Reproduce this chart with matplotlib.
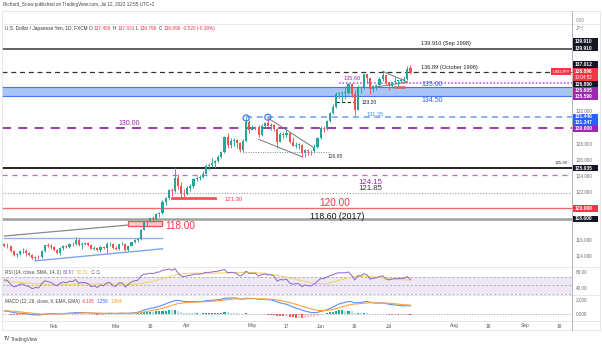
import matplotlib
matplotlib.use('Agg')
import matplotlib.pyplot as plt
import numpy as np
import pandas as pd
from matplotlib.lines import Line2D
from matplotlib.patches import Rectangle, Ellipse

plt.rcParams['font.family'] = ['Liberation Sans', 'DejaVu Sans']

# ---------------- DATA ----------------
start_date = '2022-01-10'
end_date = '2022-07-12'
axis_end_date = '2022-09-30'

opens = [115.55,115.20,115.28,114.61,114.18,114.22,114.60,114.62,114.33,114.12,113.70,113.88,113.84,114.65,115.35,115.25,
         115.10,114.70,114.40,114.95,115.22,115.10,115.55,115.50,116.00,115.40,115.55,115.58,115.40,114.92,115.00,114.75,115.10,115.00,115.50,115.55,
         115.00,114.90,115.48,115.50,114.80,115.30,115.70,116.00,116.10,117.30,118.20,118.30,118.70,118.60,119.20,119.40,120.80,121.20,122.30,122.10,123.80,122.80,121.80,
         121.70,122.50,122.80,123.60,123.80,123.90,124.30,125.30,125.40,125.60,125.90,126.40,127.00,128.90,127.90,128.40,128.50,128.10,127.20,128.40,130.80,
         129.80,130.10,130.10,129.10,130.20,130.60,130.30,130.40,129.90,128.30,129.20,129.10,129.40,128.20,127.80,127.90,127.90,126.90,127.30,127.10,127.10,127.60,
         128.70,130.00,129.90,130.90,131.90,132.60,134.20,134.40,134.40,134.40,135.50,134.20,132.20,135.00,135.10,136.70,136.20,134.90,135.20,135.40,136.10,136.60,
         135.70,135.20,135.70,135.90,135.90,136.00,136.10,137.456]
highs = [115.68,115.60,115.40,114.75,114.38,114.80,115.05,114.82,114.50,114.20,114.00,114.10,114.70,115.40,115.68,115.45,
         115.20,114.85,115.10,115.40,115.38,115.60,115.70,116.35,116.20,115.80,115.80,115.70,115.50,115.20,115.10,115.20,115.25,115.70,115.75,115.60,
         115.20,115.55,115.80,115.60,115.40,115.80,116.10,116.30,117.40,118.30,118.45,118.90,119.00,119.40,119.50,120.95,121.40,122.40,122.45,125.10,124.30,123.20,122.40,
         122.70,123.00,123.70,124.00,124.10,124.60,125.50,125.60,126.30,126.00,126.60,127.10,129.00,129.40,128.70,128.80,128.60,128.20,128.60,131.25,131.00,
         130.40,130.30,130.35,130.50,130.80,131.35,130.60,130.50,130.00,129.50,129.50,129.80,129.50,128.90,128.20,128.10,128.00,127.40,127.40,127.30,128.00,128.90,
         130.20,130.20,131.00,132.00,133.00,134.50,134.55,134.45,135.20,135.60,135.60,134.70,135.40,135.20,136.70,136.70,136.20,135.40,135.50,136.40,137.00,136.70,
         135.80,135.80,136.40,136.00,136.20,136.50,137.75,137.831]
lows = [115.08,115.05,114.50,113.95,113.85,114.10,114.35,114.00,113.95,113.60,113.47,113.60,113.70,114.50,115.10,114.85,
        114.60,114.20,114.15,114.80,114.95,115.00,115.30,115.40,115.30,114.90,115.40,115.25,114.85,114.80,114.65,114.50,114.90,114.40,115.30,114.90,
        114.70,114.80,115.40,114.65,114.65,115.20,115.60,115.80,116.00,117.20,117.70,118.20,118.20,118.50,118.90,119.30,120.40,121.00,121.50,122.00,122.40,121.30,121.30,
        121.60,122.10,122.50,123.40,123.50,123.80,124.20,124.80,125.10,125.00,125.80,126.30,126.90,127.50,127.50,127.80,127.50,127.00,127.00,128.30,129.40,
        129.70,129.80,128.90,128.95,130.00,130.30,129.80,129.60,127.50,128.20,128.80,128.90,128.10,127.80,127.50,127.40,126.40,126.40,126.60,126.60,127.00,127.50,
        128.60,129.50,129.80,130.80,131.80,132.50,133.70,133.20,133.60,134.30,133.90,131.50,132.20,134.40,134.90,135.60,134.30,134.50,134.80,135.10,135.90,135.50,
        134.70,135.00,135.50,135.30,135.70,135.60,136.00,136.796]
closes = [115.20,115.28,114.61,114.18,114.22,114.60,114.62,114.33,114.12,113.70,113.88,113.84,114.65,115.35,115.25,115.10,
          114.70,114.40,114.95,115.22,115.10,115.55,115.50,116.00,115.40,115.55,115.58,115.40,114.92,115.00,114.75,115.10,115.00,115.50,115.55,115.00,
          114.90,115.48,115.50,114.80,115.30,115.70,116.00,116.10,117.30,118.20,118.30,118.70,118.60,119.20,119.40,120.80,121.20,122.30,122.10,123.80,122.80,121.80,121.70,
          122.50,122.80,123.60,123.80,123.90,124.30,125.30,125.40,125.60,125.90,126.40,127.00,128.90,127.90,128.40,128.50,128.10,127.20,128.40,130.80,129.80,
          130.10,130.10,129.10,130.20,130.60,130.30,130.40,129.90,128.30,129.20,129.10,129.40,128.20,127.80,127.90,127.90,126.90,127.30,127.10,127.10,127.60,128.70,
          130.00,129.90,130.90,131.90,132.60,134.20,134.40,134.40,134.40,135.50,134.20,132.20,135.00,135.10,136.70,136.20,134.90,135.20,135.40,136.10,136.60,135.70,
          135.20,135.70,135.90,135.90,136.00,136.10,137.40,136.896]

rsi = [63,62,52,47,48,53,53,49,47,42,45,44,54,61,59,57,
       52,49,55,58,56,60,59,64,55,57,57,54,47,49,45,51,49,56,57,49,
       48,56,56,46,53,58,61,62,72,77,77,79,78,81,82,86,87,89,86,90,80,72,71,
       73,74,76,77,77,78,81,81,82,83,84,86,88,80,81,81,78,72,76,84,78,
       79,79,72,76,77,75,75,72,60,64,63,65,56,53,54,54,47,51,49,49,53,60,
       66,66,70,73,75,79,80,80,80,82,74,63,73,73,78,75,65,67,68,71,73,66,
       63,65,66,66,67,67,71,63.67]
rsi_ma_dates = ['2022-01-10','2022-01-20','2022-02-01','2022-02-11','2022-02-23','2022-03-07','2022-03-11',
                '2022-03-17','2022-03-23','2022-03-29','2022-04-04','2022-04-12','2022-04-20','2022-04-28',
                '2022-05-06','2022-05-12','2022-05-18','2022-05-24','2022-05-30','2022-06-03','2022-06-09',
                '2022-06-15','2022-06-21','2022-06-27','2022-07-01','2022-07-07','2022-07-12']
rsi_ma = [60,55,51,53,54,52,54,60,68,76,79,79,80,81,79,74,68,61,54,54,62,70,72,70,67,64,62.31]

macd = [0.45,0.42,0.33,0.22,0.14,0.11,0.08,0.03,-0.02,-0.10,-0.14,-0.17,-0.12,-0.03,0.03,0.07,
        0.06,0.02,0.03,0.07,0.09,0.14,0.17,0.23,0.22,0.23,0.23,0.21,0.14,0.10,0.05,0.05,0.04,0.08,0.11,0.09,
        0.06,0.10,0.13,0.09,0.10,0.14,0.20,0.26,0.40,0.58,0.72,0.85,0.94,1.07,1.18,1.37,1.54,1.74,1.86,2.08,2.10,2.02,1.93,
        1.90,1.88,1.90,1.92,1.92,1.95,2.03,2.07,2.10,2.14,2.19,2.26,2.43,2.45,2.48,2.48,2.43,2.30,2.29,2.42,2.41,
        2.40,2.38,2.27,2.25,2.24,2.19,2.15,2.06,1.83,1.71,1.59,1.50,1.30,1.09,0.92,0.78,0.58,0.45,0.33,0.23,0.19,0.25,
        0.40,0.50,0.65,0.84,1.04,1.32,1.54,1.69,1.78,1.91,1.89,1.70,1.75,1.77,1.88,1.90,1.80,1.73,1.67,1.68,1.70,1.62,
        1.50,1.44,1.39,1.33,1.28,1.23,1.30,1.259]
signal = [0.50,0.49,0.46,0.42,0.37,0.32,0.27,0.22,0.17,0.12,0.07,0.02,-0.01,-0.02,-0.01,0.01,
          0.02,0.02,0.02,0.03,0.04,0.06,0.08,0.11,0.13,0.15,0.17,0.18,0.17,0.16,0.14,0.12,0.11,0.10,0.10,0.10,
          0.09,0.09,0.10,0.10,0.10,0.11,0.13,0.15,0.20,0.28,0.37,0.47,0.57,0.66,0.77,0.89,1.02,1.17,1.31,1.46,1.59,1.67,1.72,
          1.76,1.78,1.81,1.83,1.85,1.87,1.90,1.93,1.96,2.00,2.04,2.08,2.15,2.21,2.26,2.30,2.33,2.32,2.32,2.34,2.35,
          2.36,2.36,2.35,2.33,2.31,2.29,2.26,2.23,2.15,2.06,1.97,1.87,1.76,1.63,1.49,1.35,1.20,1.05,0.91,0.77,0.66,0.58,
          0.54,0.53,0.56,0.61,0.70,0.82,0.97,1.11,1.25,1.38,1.48,1.52,1.57,1.61,1.66,1.71,1.73,1.73,1.72,1.71,1.71,1.69,
          1.65,1.61,1.56,1.52,1.47,1.42,1.40,1.364]
hist = [-0.05,-0.07,-0.13,-0.20,-0.23,-0.21,-0.19,-0.19,-0.19,-0.22,-0.21,-0.19,-0.11,-0.01,0.04,0.06,
        0.04,0.00,0.01,0.04,0.05,0.08,0.09,0.12,0.09,0.08,0.06,0.03,-0.03,-0.06,-0.09,-0.07,-0.07,-0.02,0.01,-0.01,
        -0.03,0.01,0.03,-0.01,0.00,0.03,0.07,0.11,0.20,0.30,0.35,0.38,0.37,0.41,0.41,0.48,0.52,0.57,0.55,0.62,0.51,0.35,0.21,
        0.14,0.10,0.09,0.09,0.07,0.08,0.13,0.14,0.14,0.14,0.15,0.18,0.28,0.24,0.22,0.18,0.10,-0.02,-0.03,0.08,0.06,
        0.04,0.02,-0.08,-0.08,-0.07,-0.10,-0.11,-0.17,-0.32,-0.35,-0.38,-0.37,-0.46,-0.54,-0.57,-0.57,-0.62,-0.60,-0.58,-0.54,-0.47,-0.33,
        -0.14,-0.03,0.09,0.23,0.34,0.50,0.57,0.58,0.53,0.53,0.41,0.18,0.18,0.16,0.22,0.19,0.07,0.00,-0.05,-0.03,-0.01,-0.07,
        -0.15,-0.17,-0.17,-0.19,-0.19,-0.19,-0.10,-0.105]

tick_dates = ['2022-02-01','2022-03-01','2022-03-16','2022-04-01','2022-05-02','2022-05-17','2022-06-01',
              '2022-06-16','2022-07-01','2022-08-01','2022-08-16','2022-09-01','2022-09-16']
tick_labels = ['Feb','Mar','16','Apr','May','17','Jun','16','Jul','Aug','16','Sep','16']

# horizontal levels drawn across the whole pane
level_sep1998 = 139.91
level_oct1998 = 137.012
zone_top, zone_bottom = 135.16, 134.04
level_130 = 130.0
level_125 = 125.035
level_12415 = 124.15
level_12185 = 121.85
level_120 = 120.0
level_11860 = 118.6
# partial levels (start date, end date or None = right edge, price)
level_13135 = ('2022-04-28', None, 131.35)
level_13560 = ('2022-06-09', None, 135.63)
level_13320 = ('2022-06-08', '2022-06-16', 133.2)
level_12695 = ('2022-04-27', '2022-06-06', 126.95)
level_12130 = ('2022-03-25', '2022-04-14', 121.25)
zone_118 = ('2022-03-07', '2022-03-22', 117.75, 118.4)
blue_flat = ('2022-01-10', '2022-03-22', 116.25)
gray_trend = [('2022-01-10', 116.5), ('2022-03-22', 118.25)]
blue_trend = [('2022-01-24', 113.4), ('2022-03-22', 114.9)]
wedge_upper = [('2022-05-09', 131.25), ('2022-05-30', 127.5)]
wedge_lower = [('2022-05-04', 128.6), ('2022-05-24', 126.4)]
tri_upper = [('2022-06-29', 137.1), ('2022-07-11', 135.75)]
tri_lower = [('2022-06-23', 135.0), ('2022-07-11', 135.75)]
red_mark = [('2022-07-05', 135.1), ('2022-07-08', 135.1)]
circles = [('2022-04-28', 131.25), ('2022-05-09', 131.35)]

# ---------------- LAYOUT ----------------
W, H = 602, 345
fig = plt.figure(figsize=(W / 100, H / 100), dpi=100)
fig.patch.set_facecolor('white')

all_days = pd.bdate_range(start_date, axis_end_date)
pos = {d.strftime('%Y-%m-%d'): i for i, d in enumerate(all_days)}
n = len(closes)
x = np.arange(n)

def P(d):
    return pos[d]

def fy(py):
    return 1 - py / H

def axes_px(x0, y0, x1, y1):
    a = fig.add_axes([x0 / W, 1 - y1 / H, (x1 - x0) / W, (y1 - y0) / H])
    a.set_axis_off()
    a.set_xlim(-0.77, 183.1)
    return a

ax = axes_px(2, 24, 572, 266)
ax.set_ylim(112.75, 143.0)
ax_rsi = axes_px(2, 267, 572, 295)
ax_rsi.set_ylim(27.1, 93.8)
ax_macd = axes_px(2, 295, 572, 321)
ax_macd.set_ylim(-1.08, 2.92)

# ---------------- MAIN PANE ----------------
purple = '#9c27b0'
red = '#f23645'
ax.axhline(level_sep1998, color='#555555', lw=1.3)
ax.axhline(level_oct1998, color='#333333', lw=0.9, ls=(0, (4, 3)))
ax.axhspan(zone_bottom, zone_top, color='#a9c4f5', lw=0)
ax.axhline(zone_top, color='#3b78ef', lw=0.8)
ax.axhline(zone_bottom, color='#3b78ef', lw=0.8)
ax.axhline(level_130, color=purple, lw=1.3, ls=(0, (5, 4)))
ax.axhline(level_125, color='#111111', lw=1.3)
ax.axhline(level_12415, color='#b56cd6', lw=0.9, ls=(0, (4, 4)))
ax.axhline(level_12185, color='#9a9a9a', lw=0.8, ls=(0, (1, 1.5)))
ax.axhline(level_120, color='#f06a6a', lw=1.0)
ax.axhline(level_11860, color='#a0a0a0', lw=1.8)

def seg(s, e, y, **kw):
    x1 = P(e) if e else 183.1
    ax.plot([P(s), x1], [y, y], **kw)

seg(*level_13135, color='#6e9ef2', lw=1.1, ls=(0, (4, 3)))
seg(*level_13560, color='#c23fd9', lw=1.1, ls=(0, (1, 1.3)))
seg(*level_13320, color='#222222', lw=0.8, ls=(0, (3, 2)))
seg(*level_12695, color='#888888', lw=0.7, ls=(0, (1, 1.5)))
seg(*level_12130, color='#f05555', lw=2.0)
seg(blue_flat[0], blue_flat[1], blue_flat[2], color='#8fb2f4', lw=1.0)

def line(pts, **kw):
    ax.plot([P(p[0]) for p in pts], [p[1] for p in pts], **kw)

line(gray_trend, color='#888888', lw=0.9)
line(blue_trend, color='#7aa5f5', lw=1.0)
line(wedge_upper, color='#777777', lw=0.7)
line(wedge_lower, color='#777777', lw=0.7)
line(tri_upper, color='#777777', lw=0.7)
line(tri_lower, color='#777777', lw=0.7)
line(red_mark, color='#f05555', lw=1.8)

ax.add_patch(Rectangle((P(zone_118[0]), zone_118[2]), P(zone_118[1]) - P(zone_118[0]),
                       zone_118[3] - zone_118[2], fc='#f8c8c8', ec='#f05555', lw=0.9, zorder=3))

# candles
up_col, dn_col = '#26a69a', '#ef5350'
o = np.array(opens); h = np.array(highs); l = np.array(lows); c = np.array(closes)
cols = np.where(c >= o, up_col, dn_col)
ax.vlines(x, l, h, colors=cols, lw=0.65, zorder=4)
ax.bar(x, np.maximum(np.abs(c - o), 0.06), bottom=np.minimum(o, c), width=0.7,
       color=cols, lw=0, zorder=5)

for d, yv in circles:
    ax.add_patch(Ellipse((P(d), yv), 2.0, 0.75, fc='none', ec='#3d7ff2', lw=0.9, zorder=6))

# text annotations (pixel positions)
def ftxt(px, py, s, size, color, **kw):
    kw.setdefault('ha', 'left')
    kw.setdefault('va', 'center')
    return fig.text(px / W, fy(py), s, fontsize=size, color=color, **kw)

ftxt(421, 44, '139.910 (Sep 1998)', 4.1, '#222222')
ftxt(421, 67.5, '136.89 (October 1998)', 4.1, '#222222')
ftxt(344, 78, '135.60', 4.1, purple)
ftxt(421, 85, '135.00', 5.0, '#2962ff')
ftxt(421, 100.5, '134.50', 5.0, '#2962ff')
ftxt(362, 102.5, '133.20', 3.6, '#222222')
ftxt(367, 114.5, '131.35', 4.0, '#448aff')
ftxt(118, 123.5, '130.00', 5.0, purple)
ftxt(328, 157, '126.95', 3.6, '#333333')
ftxt(555, 163.5, '125.00', 3.2, '#333333')
ftxt(358, 182, '124.15', 5.6, purple)
ftxt(358, 189, '121.85', 5.6, '#333333')
ftxt(225, 199.5, '121.30', 4.2, red)
ftxt(319, 203.5, '120.00', 7.2, red)
ftxt(310, 216, '118.60 (2017)', 6.3, '#111111')
ftxt(165, 226, '118.00', 7.2, red)

# ---------------- RSI PANE ----------------
ax_rsi.axhspan(30, 70, color='#ede7f6', lw=0)
for lv in (70, 50, 30):
    ax_rsi.axhline(lv, color='#9598a1', lw=0.5, ls=(0, (3, 3)))
ax_rsi.plot([P(d) for d in rsi_ma_dates], rsi_ma, color='#f5d66a', lw=0.8)
ax_rsi.plot(x, rsi, color='#8c67cc', lw=0.7)

# ---------------- MACD PANE ----------------
ax_macd.axhline(0, color='#9598a1', lw=0.5, ls=(0, (2, 2)))
hcols = []
for i, v in enumerate(hist):
    prev = hist[i - 1] if i > 0 else v
    if v >= 0:
        hcols.append('#26a69a' if v >= prev else '#b2dfdb')
    else:
        hcols.append('#ffcdd2' if v >= prev else '#ff5252')
ax_macd.bar(x, hist, width=0.7, color=hcols, lw=0)
ax_macd.plot(x, macd, color='#5b8ff9', lw=0.8)
ax_macd.plot(x, signal, color='#ffa040', lw=0.8)

# ---------------- FRAME / AXES ----------------
def fline(x0, y0, x1, y1, color='#e0e3eb', lw=0.6):
    fig.add_artist(Line2D([x0 / W, x1 / W], [fy(y0), fy(y1)], color=color, lw=lw))

fline(2, 11, 600, 11)
fline(2, 24, 600, 24)
fline(2, 266.5, 600, 266.5)
fline(2, 295, 600, 295)
fline(2, 321, 600, 321)
fline(2, 330, 600, 330)
fline(2, 11, 2, 330)
fline(600, 11, 600, 330)
fline(572, 11, 572, 330, color='#a8abb4', lw=0.6)

# date labels
for d, lab in zip(tick_dates, tick_labels):
    px = 2 + (P(d) + 0.77) / (183.1 + 0.77) * 570
    ftxt(px, 326, lab, 3.5, '#555555', ha='center')

# right axis: plain tick labels
for py, s in [(111.5, '132.000'), (144, '128.000'), (160, '126.000'), (176, '124.000'),
              (192, '122.000'), (240, '116.000'), (256, '114.000')]:
    ftxt(576, py, s, 3.4, '#6a6d78')
ftxt(576, 21, '0.00', 3.4, '#8a8d96')
ftxt(576, 29, 'JPY', 3.4, '#8a8d96')
ftxt(576, 273, '80.00', 3.4, '#6a6d78')
ftxt(576, 289, '40.00', 3.4, '#6a6d78')
ftxt(576, 301, '2.000', 3.4, '#6a6d78')
ftxt(576, 314, '0.000', 3.4, '#6a6d78')

# right axis: colored price tags
def tag(py, s, fc, h=6.2):
    fig.add_artist(Rectangle((573 / W, fy(py + h / 2)), 25 / W, h / H, fc=fc, ec='none',
                             transform=fig.transFigure))
    ftxt(575, py, s, 3.5, 'white', fontweight='bold')

tag(41.5, '139.910', '#131722')
tag(48, '139.910', '#131722')
tag(64.5, '137.012', '#131722')
fig.add_artist(Rectangle((573 / W, fy(81)), 25 / W, 12.5 / H, fc='#f23645', ec='none',
                         transform=fig.transFigure))
ftxt(575, 71.5, '136.896', 3.5, 'white', fontweight='bold')
ftxt(575, 77.5, '10:04:52', 3.3, 'white')
tag(84, '136.890', '#131722')
tag(90.5, '135.605', '#9c27b0')
tag(97, '135.590', '#9c27b0')
tag(117, '131.446', '#2962ff')
tag(123, '131.347', '#2962ff')
tag(128.5, '130.000', '#9c27b0')
tag(168, '125.035', '#131722')
tag(208.5, '120.000', '#f23645')
tag(219, '118.600', '#131722')

# USDJPY tag
fig.add_artist(Rectangle((551 / W, fy(75)), 20 / W, 6.5 / H, fc='#f23645', ec='none',
                         transform=fig.transFigure))
ftxt(561, 71.8, 'USDJPY', 3.2, 'white', ha='center')

# ---------------- HEADER / LEGENDS ----------------
fig.canvas.draw()
renderer = fig.canvas.get_renderer()

def chain(px, py, parts, size, gap=2.0):
    cur = px
    for s, col in parts:
        t = ftxt(cur, py, s, size, col)
        bb = t.get_window_extent(renderer=renderer)
        cur += bb.width + gap

ftxt(3, 4.5, 'Richard_Snow published on TradingView.com, Jul 12, 2022 12:55 UTC+2', 3.3, '#444444')
chain(5, 28.5, [('U.S. Dollar / Japanese Yen, 1D, FXCM', '#333333'),
                ('O', '#333333'), ('137.456', red), ('H', '#333333'), ('137.831', red),
                ('L', '#333333'), ('136.796', red), ('C', '#333333'), ('136.896', red),
                ('-0.520 (-0.38%)', red)], 3.4, gap=1.3)
chain(5, 272.5, [('RSI (14, close, SMA, 14, 2)', '#444444'), ('63.67', '#7e57c2'),
                 ('62.31', '#e0b81e'), ('∅ ∅', '#444444')], 3.3)
chain(5, 301.5, [('MACD (12, 26, close, 9, EMA, EMA)', '#444444'), ('-0.105', red),
                 ('1.259', '#2962ff'), ('1.364', '#ff9800')], 3.3)

chain(4, 339, [('TV', '#131722'), ('TradingView', '#444444')], 3.5, gap=1.0)

fig.savefig('out.png', dpi=100, facecolor='white')
